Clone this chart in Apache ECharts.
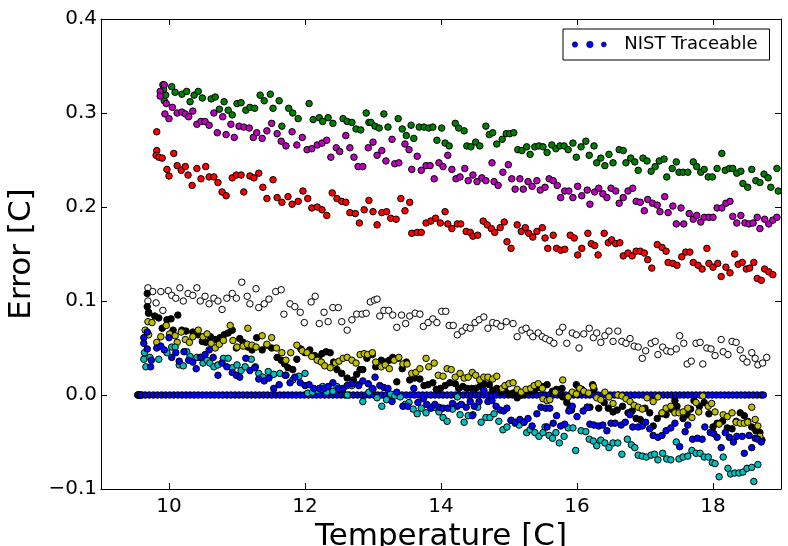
<!DOCTYPE html>
<html><head><meta charset="utf-8">
<script src="https://cdn.jsdelivr.net/npm/echarts@6/dist/echarts.min.js"></script>
<style>html,body{margin:0;padding:0;background:#fff}#c{width:788px;height:546px}</style>
</head><body><div id="c"></div>
<script>
// Axis tick labels
const xTicks = [10, 12, 14, 16, 18];
const yTicks = [-0.1, 0, 0.1, 0.2, 0.3, 0.4];

// NIST traceable reference: temperatures, error is zero by definition
const nistTemps = [9.54,9.545,9.55,9.555,9.56,9.57,9.58,9.60,9.65,9.71,9.77,9.83,9.89,9.95,10.01,10.07,10.13,10.19,10.25,10.31,10.37,10.43,10.49,10.55,10.61,10.67,10.73,10.79,10.85,10.91,10.97,11.03,11.09,11.15,11.21,11.27,11.33,11.39,11.45,11.51,11.57,11.63,11.69,11.75,11.81,11.87,11.93,11.99,12.05,12.11,12.17,12.23,12.29,12.35,12.41,12.47,12.53,12.59,12.65,12.71,12.77,12.83,12.89,12.95,13.01,13.07,13.13,13.19,13.25,13.31,13.37,13.43,13.49,13.55,13.61,13.67,13.73,13.79,13.85,13.91,13.97,14.03,14.09,14.15,14.21,14.27,14.33,14.39,14.45,14.51,14.57,14.63,14.69,14.75,14.81,14.87,14.93,14.99,15.05,15.11,15.17,15.23,15.29,15.35,15.41,15.47,15.53,15.59,15.65,15.71,15.77,15.83,15.89,15.95,16.01,16.07,16.13,16.19,16.25,16.31,16.37,16.43,16.49,16.55,16.61,16.67,16.73,16.79,16.85,16.91,16.97,17.03,17.09,17.15,17.21,17.27,17.33,17.39,17.45,17.51,17.57,17.63,17.69,17.75,17.81,17.87,17.93,17.99,18.05,18.11,18.17,18.23,18.29,18.35,18.41,18.47,18.53,18.59,18.65,18.71,18.74];
const NIST_ERROR = 0;

// Sensor readings: [temperature, error]
const green = [[9.91,.330],[9.93,.313],[9.95,.319],[9.92,.325],[10.04,.328],[10.09,.322],[10.19,.320],[10.26,.323],[10.31,.312],[10.37,.319],[10.43,.323],[10.49,.316],[10.62,.315],[10.68,.317],[10.74,.304],[10.81,.312],[10.87,.303],[10.93,.298],[11.0,.310],[11.06,.311],[11.13,.303],[11.19,.306],[11.26,.305],[11.34,.319],[11.40,.313],[11.49,.320],[11.53,.305],[11.62,.313],[11.66,.286],[11.76,.305],[11.82,.300],[11.90,.294],[12.06,.310],[12.12,.293],[12.21,.295],[12.26,.291],[12.34,.295],[12.41,.289],[12.56,.294],[12.62,.291],[12.69,.290],[12.75,.283],[12.82,.282],[12.90,.300],[12.94,.290],[12.97,.290],[13.03,.286],[13.09,.284],[13.16,.299],[13.22,.285],[13.37,.294],[13.43,.283],[13.49,.276],[13.56,.287],[13.60,.273],[13.68,.285],[13.75,.285],[13.82,.284],[13.88,.285],[13.94,.271],[14.01,.284],[14.06,.268],[14.12,.265],[14.21,.289],[14.26,.284],[14.34,.281],[14.38,.265],[14.44,.264],[14.51,.269],[14.57,.265],[14.66,.286],[14.71,.277],[14.76,.279],[14.82,.267],[14.90,.272],[14.96,.278],[15.01,.278],[15.07,.279],[15.13,.261],[15.19,.260],[15.26,.264],[15.31,.256],[15.38,.264],[15.44,.265],[15.50,.264],[15.56,.258],[15.63,.266],[15.69,.262],[15.75,.265],[15.81,.265],[15.87,.261],[15.94,.268],[15.99,.253],[16.06,.264],[16.13,.270],[16.18,.255],[16.25,.265],[16.29,.247],[16.35,.252],[16.41,.244],[16.47,.256],[16.53,.247],[16.62,.261],[16.68,.260],[16.72,.247],[16.79,.252],[16.85,.248],[16.90,.239],[16.97,.252],[17.03,.249],[17.09,.238],[17.15,.243],[17.21,.249],[17.28,.251],[17.32,.232],[17.40,.241],[17.46,.248],[17.50,.237],[17.56,.237],[17.63,.237],[17.71,.248],[17.76,.243],[17.82,.237],[17.87,.240],[17.93,.232],[17.99,.232],[18.06,.241],[18.13,.257],[18.18,.239],[18.24,.241],[18.29,.241],[18.35,.236],[18.41,.238],[18.44,.225],[18.51,.221],[18.57,.240],[18.63,.228],[18.69,.226],[18.75,.235],[18.81,.231],[18.85,.221],[18.94,.241],[18.96,.217]];

const magenta = [[9.93,.330],[9.87,.323],[9.87,.318],[9.96,.310],[9.94,.299],[10.0,.294],[10.05,.306],[10.12,.300],[10.19,.301],[10.24,.299],[10.29,.296],[10.35,.302],[10.41,.288],[10.47,.291],[10.53,.291],[10.59,.287],[10.66,.300],[10.71,.279],[10.79,.296],[10.84,.277],[10.91,.288],[10.96,.274],[11.03,.286],[11.10,.285],[11.18,.284],[11.24,.274],[11.29,.279],[11.37,.273],[11.44,.281],[11.51,.289],[11.59,.278],[11.65,.270],[11.72,.265],[11.81,.280],[11.88,.266],[11.96,.274],[12.03,.261],[12.10,.262],[12.18,.266],[12.25,.268],[12.32,.271],[12.38,.253],[12.46,.263],[12.51,.259],[12.60,.276],[12.66,.263],[12.72,.253],[12.78,.243],[12.85,.243],[12.93,.263],[13.00,.269],[13.06,.255],[13.13,.260],[13.19,.249],[13.28,.272],[13.32,.246],[13.38,.247],[13.47,.267],[13.53,.261],[13.57,.240],[13.65,.254],[13.71,.239],[13.78,.244],[13.84,.244],[13.90,.230],[13.97,.247],[14.03,.243],[14.10,.255],[14.16,.240],[14.22,.230],[14.28,.232],[14.35,.241],[14.40,.228],[14.47,.234],[14.53,.227],[14.60,.231],[14.66,.228],[14.75,.247],[14.78,.227],[14.84,.223],[14.91,.237],[14.99,.245],[15.04,.230],[15.09,.219],[15.16,.230],[15.21,.219],[15.28,.227],[15.34,.222],[15.41,.228],[15.46,.218],[15.53,.221],[15.59,.230],[15.65,.228],[15.71,.223],[15.76,.210],[15.82,.217],[15.88,.217],[15.94,.210],[16.01,.222],[16.07,.212],[16.15,.218],[16.19,.203],[16.26,.216],[16.32,.220],[16.38,.214],[16.44,.210],[16.50,.220],[16.57,.217],[16.62,.204],[16.68,.210],[16.75,.217],[16.82,.220],[16.87,.206],[16.93,.205],[16.99,.196],[17.04,.208],[17.11,.204],[17.18,.202],[17.22,.195],[17.29,.211],[17.34,.194],[17.41,.201],[17.46,.182],[17.53,.199],[17.57,.182],[17.65,.193],[17.71,.187],[17.76,.191],[17.82,.184],[17.87,.189],[17.94,.189],[18.00,.189],[18.06,.199],[18.13,.199],[18.19,.204],[18.25,.206],[18.29,.190],[18.35,.183],[18.41,.191],[18.47,.183],[18.53,.182],[18.59,.183],[18.65,.189],[18.69,.177],[18.76,.187],[18.82,.182],[18.88,.186],[18.94,.189]];

const red = [[9.82,.280],[9.82,.260],[9.81,.255],[9.85,.253],[9.90,.252],[9.97,.240],[10.00,.233],[10.07,.257],[10.12,.244],[10.18,.239],[10.24,.243],[10.28,.234],[10.34,.223],[10.41,.241],[10.47,.230],[10.54,.243],[10.59,.232],[10.66,.232],[10.72,.226],[10.78,.216],[10.84,.212],[10.93,.231],[10.99,.234],[11.06,.234],[11.10,.216],[11.19,.233],[11.25,.231],[11.32,.236],[11.38,.221],[11.44,.209],[11.53,.229],[11.59,.210],[11.66,.205],[11.75,.211],[11.81,.203],[11.90,.206],[11.97,.217],[12.04,.209],[12.10,.199],[12.18,.200],[12.25,.197],[12.32,.191],[12.40,.215],[12.47,.209],[12.54,.206],[12.60,.205],[12.66,.194],[12.74,.193],[12.80,.183],[12.87,.197],[12.94,.207],[13.00,.195],[13.06,.181],[13.13,.194],[13.20,.195],[13.26,.188],[13.34,.187],[13.41,.209],[13.47,.196],[13.54,.205],[13.57,.172],[13.65,.173],[13.71,.173],[13.78,.183],[13.85,.185],[13.92,.188],[13.99,.183],[14.06,.195],[14.10,.182],[14.16,.177],[14.24,.182],[14.29,.182],[14.37,.174],[14.43,.173],[14.47,.169],[14.54,.170],[14.62,.185],[14.68,.181],[14.74,.177],[14.79,.173],[14.87,.178],[14.93,.184],[14.97,.163],[15.03,.156],[15.12,.181],[15.18,.174],[15.24,.178],[15.29,.172],[15.35,.168],[15.41,.174],[15.49,.178],[15.53,.167],[15.57,.156],[15.65,.170],[15.70,.156],[15.76,.154],[15.82,.155],[15.90,.170],[15.96,.167],[16.01,.149],[16.07,.156],[16.16,.172],[16.21,.161],[16.26,.159],[16.31,.149],[16.40,.172],[16.46,.162],[16.51,.165],[16.57,.161],[16.63,.162],[16.68,.148],[16.75,.151],[16.81,.148],[16.87,.153],[16.93,.153],[16.99,.151],[17.04,.144],[17.10,.135],[17.18,.160],[17.25,.157],[17.31,.153],[17.34,.141],[17.41,.140],[17.47,.138],[17.54,.147],[17.60,.152],[17.66,.152],[17.71,.141],[17.78,.138],[17.84,.134],[17.91,.156],[17.94,.140],[18.00,.136],[18.07,.140],[18.12,.126],[18.19,.136],[18.25,.130],[18.32,.150],[18.37,.139],[18.43,.141],[18.49,.134],[18.54,.135],[18.60,.141],[18.65,.124],[18.71,.122],[18.76,.134],[18.82,.131],[18.88,.128]];

const white = [[9.69,.114],[9.76,.110],[9.69,.100],[9.81,.098],[9.70,.088],[9.91,.090],[9.88,.110],[9.99,.111],[10.04,.106],[10.10,.103],[10.16,.114],[10.21,.100],[10.28,.108],[10.35,.106],[10.41,.114],[10.46,.100],[10.53,.105],[10.59,.097],[10.66,.103],[10.72,.100],[10.78,.091],[10.85,.103],[10.93,.108],[10.99,.103],[11.07,.120],[11.15,.105],[11.19,.097],[11.28,.113],[11.32,.093],[11.40,.097],[11.47,.102],[11.57,.110],[11.65,.112],[11.69,.086],[11.78,.097],[11.85,.094],[11.93,.088],[11.99,.077],[12.09,.099],[12.15,.105],[12.21,.076],[12.28,.088],[12.34,.078],[12.41,.093],[12.49,.093],[12.54,.078],[12.62,.069],[12.69,.080],[12.76,.086],[12.84,.086],[12.90,.087],[12.96,.099],[13.02,.101],[13.06,.102],[13.10,.084],[13.16,.090],[13.23,.090],[13.29,.085],[13.35,.072],[13.42,.085],[13.48,.076],[13.54,.084],[13.62,.087],[13.69,.086],[13.74,.073],[13.81,.077],[13.88,.081],[13.94,.077],[14.01,.089],[14.07,.089],[14.12,.074],[14.18,.074],[14.24,.064],[14.31,.068],[14.37,.072],[14.43,.071],[14.50,.077],[14.56,.080],[14.63,.083],[14.69,.071],[14.76,.077],[14.82,.076],[14.88,.073],[14.96,.078],[15.06,.076],[15.12,.062],[15.19,.069],[15.25,.071],[15.31,.066],[15.35,.062],[15.43,.066],[15.49,.062],[15.54,.060],[15.60,.058],[15.66,.055],[15.74,.067],[15.79,.072],[15.85,.055],[15.93,.066],[15.99,.064],[16.03,.050],[16.10,.065],[16.18,.071],[16.24,.061],[16.29,.066],[16.35,.056],[16.41,.063],[16.47,.068],[16.53,.057],[16.60,.068],[16.66,.057],[16.72,.055],[16.78,.060],[16.84,.052],[16.90,.051],[16.96,.039],[17.01,.047],[17.09,.055],[17.15,.057],[17.19,.043],[17.26,.051],[17.32,.047],[17.38,.046],[17.46,.049],[17.51,.063],[17.57,.055],[17.62,.033],[17.68,.036],[17.75,.055],[17.81,.056],[17.85,.033],[17.91,.050],[17.97,.049],[18.03,.042],[18.12,.059],[18.15,.046],[18.22,.043],[18.28,.057],[18.34,.056],[18.40,.048],[18.44,.039],[18.50,.035],[18.57,.045],[18.62,.039],[18.66,.032],[18.73,.034],[18.79,.040]];

const black = [[9.68,.108],[9.68,.094],[9.70,.087],[9.79,.084],[9.85,.082],[9.90,.071],[9.97,.080],[10.03,.081],[10.06,.069],[10.13,.085],[10.19,.069],[10.25,.068],[10.35,.067],[10.43,.064],[10.49,.057],[10.54,.056],[10.61,.062],[10.68,.059],[10.75,.061],[10.81,.064],[10.87,.066],[10.93,.069],[10.99,.050],[11.04,.060],[11.09,.056],[11.16,.051],[11.22,.048],[11.29,.061],[11.37,.048],[11.44,.053],[11.51,.050],[11.59,.040],[11.65,.037],[11.70,.033],[11.75,.029],[11.82,.027],[11.88,.038],[11.94,.049],[12.00,.045],[12.07,.048],[12.14,.042],[12.20,.040],[12.25,.044],[12.31,.046],[12.37,.045],[12.42,.035],[12.47,.027],[12.54,.023],[12.62,.018],[12.71,.016],[12.76,.022],[12.81,.027],[12.85,.027],[12.91,.039],[12.99,.043],[13.04,.030],[13.12,.037],[13.18,.035],[13.24,.037],[13.29,.040],[13.35,.014],[13.37,.039],[13.43,.028],[13.49,.035],[13.54,.016],[13.61,.018],[13.69,.017],[13.75,.010],[13.81,.011],[13.88,.013],[13.93,.006],[13.99,.007],[14.06,.010],[14.13,.013],[14.21,.012],[14.26,.007],[14.32,.009],[14.38,.007],[14.45,.007],[14.51,.007],[14.57,.009],[14.63,.012],[14.71,.011],[14.76,.005],[14.82,.007],[14.88,.003],[14.94,.005],[15.00,.001],[15.06,.002],[15.12,-.003],[15.19,.000],[15.25,.004],[15.31,.003],[15.37,.005],[15.44,.008],[15.50,.009],[15.56,.011],[15.64,.004],[15.70,.006],[15.78,.007],[15.79,-.002],[15.85,-.008],[15.90,-.013],[15.92,-.016],[15.99,.011],[16.03,.007],[16.07,.006],[16.15,-.013],[16.19,-.013],[16.23,.011],[16.25,.006],[16.32,-.014],[16.40,-.008],[16.46,-.014],[16.53,-.018],[16.59,-.016],[16.67,-.012],[16.75,-.019],[16.81,-.017],[16.87,-.025],[16.93,-.026],[17.00,-.014],[17.07,-.019],[17.12,-.033],[17.18,-.025],[17.25,-.020],[17.31,-.021],[17.38,-.015],[17.44,-.006],[17.47,-.012],[17.56,-.025],[17.62,-.021],[17.67,-.015],[17.72,-.006],[17.80,-.012],[17.87,-.008],[17.94,-.020],[18.00,-.034],[18.06,-.030],[18.14,-.028],[18.21,-.035],[18.28,-.036],[18.34,-.028],[18.40,-.019],[18.46,-.022],[18.51,-.028],[18.57,-.034],[18.63,-.038],[18.69,-.040],[18.72,-.048]];

const yellow = [[9.65,.069],[9.69,.078],[9.75,.077],[9.70,.064],[9.82,.056],[9.88,.062],[9.96,.074],[10.01,.065],[10.09,.063],[10.12,.056],[10.18,.067],[10.24,.059],[10.30,.056],[10.35,.062],[10.43,.069],[10.50,.062],[10.56,.065],[10.62,.055],[10.68,.050],[10.74,.054],[10.80,.058],[10.90,.074],[10.94,.058],[11.00,.051],[11.09,.052],[11.15,.054],[11.16,.071],[11.22,.053],[11.28,.051],[11.37,.063],[11.44,.054],[11.51,.061],[11.58,.050],[11.66,.045],[11.72,.037],[11.79,.045],[11.88,.053],[11.96,.047],[12.03,.045],[12.10,.041],[12.18,.037],[12.24,.035],[12.29,.031],[12.37,.029],[12.45,.034],[12.50,.036],[12.56,.039],[12.62,.040],[12.69,.037],[12.75,.034],[12.81,.043],[12.87,.044],[12.92,.043],[12.99,.045],[13.04,.035],[13.12,.030],[13.18,.032],[13.24,.028],[13.31,.037],[13.38,.040],[13.44,.033],[13.50,.033],[13.57,.023],[13.63,.024],[13.69,.028],[13.78,.039],[13.82,.030],[13.90,.034],[13.96,.021],[14.03,.020],[14.09,.028],[14.15,.027],[14.21,.019],[14.28,.023],[14.34,.018],[14.40,.019],[14.46,.024],[14.51,.021],[14.57,.016],[14.63,.019],[14.69,.019],[14.76,.017],[14.82,.020],[14.90,.007],[14.94,.010],[15.00,.012],[15.06,.013],[15.12,.006],[15.18,.003],[15.25,.006],[15.32,.007],[15.37,.010],[15.43,.012],[15.49,.007],[15.50,-.004],[15.56,-.006],[15.60,-.005],[15.68,.003],[15.79,.016],[15.87,-.002],[15.93,.003],[15.99,.001],[16.04,.007],[16.10,.004],[16.17,.002],[16.24,.009],[16.29,-.003],[16.35,-.005],[16.41,.003],[16.47,-.002],[16.53,-.009],[16.60,.000],[16.66,-.001],[16.72,-.004],[16.78,-.007],[16.84,-.011],[16.90,-.013],[16.96,-.015],[17.03,-.003],[17.12,-.007],[17.19,-.002],[17.25,-.019],[17.31,-.014],[17.38,-.012],[17.44,-.019],[17.50,-.019],[17.56,-.018],[17.63,-.014],[17.69,-.024],[17.75,-.008],[17.79,-.018],[17.85,-.001],[17.93,-.012],[17.98,-.009],[18.03,-.018],[18.09,-.031],[18.15,-.021],[18.21,-.023],[18.28,-.019],[18.34,-.029],[18.40,-.030],[18.46,-.030],[18.51,-.029],[18.57,-.013],[18.62,-.026],[18.66,-.033],[18.69,-.044]];

const cyan = [[9.63,.038],[9.64,.045],[9.72,.040],[9.66,.030],[9.85,.038],[9.97,.045],[10.04,.051],[10.09,.051],[10.15,.032],[10.21,.031],[10.26,.046],[10.31,.041],[10.41,.040],[10.46,.040],[10.50,.034],[10.56,.037],[10.60,.034],[10.66,.030],[10.72,.032],[10.80,.039],[10.87,.039],[10.93,.029],[11.00,.032],[11.06,.026],[11.12,.030],[11.21,.038],[11.27,.030],[11.32,.023],[11.38,.019],[11.46,.025],[11.54,.022],[11.63,.023],[11.72,.021],[11.82,.016],[11.91,.020],[12.00,.023],[12.04,.002],[12.11,.003],[12.18,.005],[12.26,.009],[12.32,.003],[12.41,.004],[12.47,.009],[12.55,.006],[12.62,.000],[12.69,.010],[12.79,.011],[12.85,-.007],[12.94,.003],[13.00,.006],[13.06,-.003],[13.13,-.012],[13.20,-.005],[13.26,.001],[13.32,-.001],[13.40,-.002],[13.47,-.010],[13.53,-.008],[13.59,-.015],[13.65,-.020],[13.71,-.014],[13.78,-.019],[13.85,-.013],[13.91,-.013],[13.97,-.018],[14.03,-.024],[14.09,-.028],[14.17,-.015],[14.24,-.002],[14.28,-.021],[14.34,-.029],[14.40,-.022],[14.47,-.021],[14.54,-.013],[14.59,-.029],[14.66,-.024],[14.72,-.024],[14.78,-.020],[14.85,-.028],[14.91,-.037],[14.97,-.034],[15.03,-.027],[15.09,-.030],[15.15,-.032],[15.22,-.029],[15.26,-.040],[15.31,-.037],[15.38,-.040],[15.44,-.044],[15.50,-.040],[15.53,-.034],[15.59,-.043],[15.64,-.046],[15.69,-.040],[15.74,-.051],[15.81,-.044],[15.87,-.035],[15.94,-.035],[15.98,-.059],[16.06,-.038],[16.13,-.039],[16.18,-.047],[16.24,-.049],[16.29,-.054],[16.35,-.048],[16.41,-.051],[16.47,-.056],[16.53,-.051],[16.60,-.051],[16.66,-.063],[16.74,-.047],[16.80,-.053],[16.85,-.056],[16.90,-.064],[16.96,-.065],[17.02,-.066],[17.09,-.064],[17.14,-.063],[17.19,-.069],[17.26,-.062],[17.32,-.068],[17.38,-.069],[17.46,-.050],[17.50,-.068],[17.56,-.066],[17.63,-.065],[17.69,-.059],[17.75,-.062],[17.81,-.062],[17.87,-.066],[17.93,-.066],[17.99,-.072],[18.03,-.073],[18.09,-.087],[18.15,-.066],[18.22,-.078],[18.26,-.084],[18.32,-.083],[18.38,-.083],[18.44,-.082],[18.50,-.078],[18.57,-.077],[18.60,-.092],[18.66,-.074]];

const blue = [[9.68,.067],[9.63,.061],[9.63,.055],[9.68,.049],[9.74,.037],[9.73,.030],[9.82,.050],[9.88,.052],[9.93,.048],[10.00,.061],[10.04,.040],[10.10,.045],[10.15,.036],[10.22,.046],[10.29,.037],[10.35,.035],[10.40,.028],[10.47,.040],[10.53,.043],[10.59,.048],[10.65,.040],[10.72,.021],[10.78,.034],[10.85,.030],[10.93,.024],[10.99,.021],[11.04,.019],[11.13,.039],[11.19,.026],[11.26,.029],[11.32,.017],[11.40,.015],[11.47,.018],[11.54,.007],[11.62,.011],[11.71,.021],[11.78,.013],[11.85,.019],[11.93,.013],[12.00,.010],[12.06,.011],[12.13,.007],[12.21,.007],[12.28,.007],[12.34,.009],[12.41,.013],[12.49,.007],[12.56,.007],[12.62,.010],[12.69,.012],[12.79,.010],[12.85,.015],[12.93,.012],[12.99,.007],[13.03,.019],[13.10,.010],[13.16,.008],[13.22,.007],[13.28,-.007],[13.35,.003],[13.44,-.012],[13.51,-.012],[13.60,.007],[13.66,-.008],[13.74,-.004],[13.79,-.010],[13.85,-.014],[13.91,-.010],[13.97,-.013],[14.03,-.014],[14.10,-.014],[14.17,-.009],[14.24,-.012],[14.30,-.010],[14.37,-.013],[14.43,-.007],[14.46,-.022],[14.49,-.012],[14.56,-.007],[14.63,.005],[14.69,-.007],[14.75,-.006],[14.81,-.012],[14.87,-.016],[14.92,-.017],[14.97,-.014],[15.03,-.027],[15.09,-.029],[15.16,-.026],[15.22,-.029],[15.28,-.025],[15.34,-.033],[15.41,-.020],[15.47,-.013],[15.54,-.014],[15.56,-.034],[15.60,-.014],[15.65,-.030],[15.70,-.022],[15.76,-.033],[15.82,-.031],[15.88,-.017],[15.93,-.012],[16.00,-.023],[16.09,-.017],[16.15,-.013],[16.19,-.031],[16.25,-.032],[16.32,-.033],[16.38,-.032],[16.44,-.038],[16.50,-.030],[16.56,-.030],[16.65,-.032],[16.71,-.029],[16.78,-.021],[16.82,-.034],[16.90,-.034],[16.96,-.033],[17.01,-.029],[17.07,-.036],[17.12,-.043],[17.19,-.045],[17.25,-.043],[17.31,-.038],[17.38,-.035],[17.44,-.030],[17.51,-.055],[17.59,-.039],[17.63,-.032],[17.70,-.047],[17.77,-.046],[17.84,-.047],[17.88,-.034],[17.96,-.040],[18.01,-.041],[18.06,-.045],[18.12,-.056],[18.18,-.040],[18.24,-.045],[18.30,-.050],[18.35,-.044],[18.43,-.044],[18.46,-.062],[18.53,-.043],[18.57,-.056],[18.62,-.046],[18.66,-.047],[18.71,-.050]];

const FONT = 'DejaVu Sans';
const legendIcon = 'path://M0.3,3.5 A2.7,2.7 0 1,0 5.7,3.5 A2.7,2.7 0 1,0 0.3,3.5 Z M14.7,3.5 A3.3,3.3 0 1,0 21.3,3.5 A3.3,3.3 0 1,0 14.7,3.5 Z M29.5,3.5 A2.5,2.5 0 1,0 34.5,3.5 A2.5,2.5 0 1,0 29.5,3.5 Z';

function scatter(name, data, color, z) {
  return {
    type: 'scatter', name: name, data: data, symbol: 'circle', symbolSize: 6.5,
    itemStyle: { color: color, borderColor: '#000', borderWidth: 1, opacity: 1 },
    emphasis: { disabled: true }, silent: true, z: z, animation: false
  };
}

const fmtY = v => (v < 0 ? '\u2212' : '') + Math.abs(v).toFixed(1);

const chart = echarts.init(document.getElementById('c'), null, { renderer: 'canvas' });
chart.setOption({
  animation: false,
  backgroundColor: '#fff',
  grid: { left: 101, right: 7, top: 19, bottom: 57, containLabel: false, outerBoundsMode: 'none' },
  legend: {
    data: ['NIST Traceable'], left: 563, top: 29,
    padding: [5, 12, 5, 9], itemWidth: 34, itemHeight: 7, icon: legendIcon,
    backgroundColor: '#fff', borderColor: '#000', borderWidth: 1, borderRadius: 0,
    itemStyle: { borderWidth: 0.6, borderColor: '#000' },
    textStyle: { fontFamily: FONT, fontSize: 18, color: '#000', lineHeight: 21, padding: [0, 0, 0, 13] },
    selectedMode: false
  },
  xAxis: [
    { type: 'value', min: 9, max: 19, position: 'bottom',
      axisLine: { show: true, onZero: false, lineStyle: { color: '#000', width: 1 } },
      axisTick: { show: true, inside: true, length: 6, customValues: xTicks, lineStyle: { color: '#000' } },
      axisLabel: { customValues: xTicks, fontFamily: FONT, fontSize: 20, color: '#000', margin: 8 },
      splitLine: { show: false },
      name: 'Temperature [C]', nameLocation: 'middle', nameGap: 29,
      nameTextStyle: { fontFamily: FONT, fontSize: 31, color: '#000' } },
    { type: 'value', min: 9, max: 19, position: 'top',
      axisLine: { show: true, onZero: false, lineStyle: { color: '#000', width: 1 } },
      axisTick: { show: true, inside: true, length: 6, customValues: xTicks, lineStyle: { color: '#000' } },
      axisLabel: { show: false }, splitLine: { show: false } }
  ],
  yAxis: [
    { type: 'value', min: -0.1, max: 0.4, position: 'left',
      axisLine: { show: true, onZero: false, lineStyle: { color: '#000', width: 1 } },
      axisTick: { show: true, inside: true, length: 6, customValues: yTicks, lineStyle: { color: '#000' } },
      axisLabel: { customValues: yTicks, formatter: fmtY, fontFamily: FONT, fontSize: 20, color: '#000', margin: 4 },
      splitLine: { show: false },
      name: 'Error [C]', nameLocation: 'middle', nameGap: 56, nameRotate: 90,
      nameTextStyle: { fontFamily: FONT, fontSize: 31, color: '#000' } },
    { type: 'value', min: -0.1, max: 0.4, position: 'right',
      axisLine: { show: true, onZero: false, lineStyle: { color: '#000', width: 1 } },
      axisTick: { show: true, inside: true, length: 6, customValues: yTicks, lineStyle: { color: '#000' } },
      axisLabel: { show: false }, splitLine: { show: false } }
  ],
  series: [
    scatter('NIST Traceable', nistTemps.map(t => [t, NIST_ERROR]), '#0000FF', 2),
    scatter('w', white, '#FFFFFF', 3),
    scatter('g', green, '#008000', 3),
    scatter('m', magenta, '#BF00BF', 3),
    scatter('r', red, '#FF0000', 3),
    scatter('k', black, '#000000', 3),
    scatter('y', yellow, '#BFBF00', 3),
    scatter('c', cyan, '#00BFBF', 3),
    scatter('b', blue, '#0000FF', 3)
  ]
});
</script>
</body></html>
